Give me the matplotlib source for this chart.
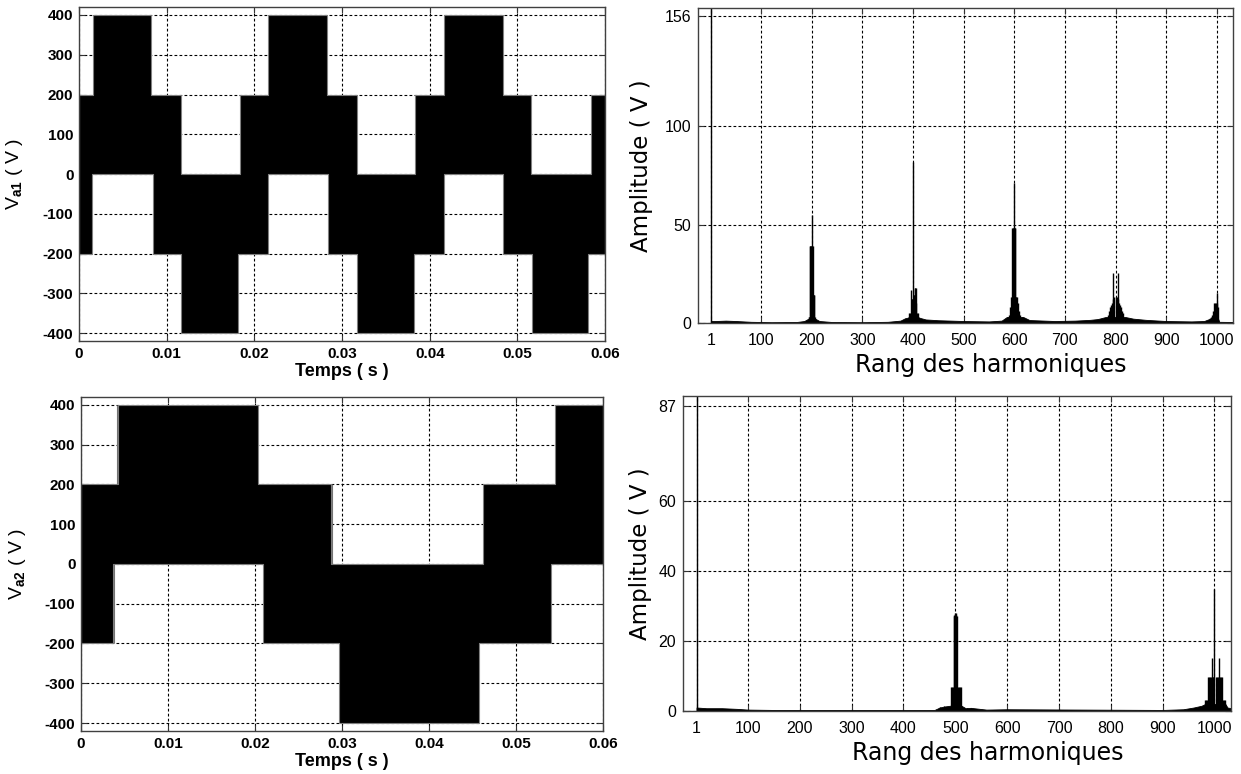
import numpy as np
import matplotlib.pyplot as plt

plt.rcParams['font.family'] = ['Liberation Sans', 'DejaVu Sans']
plt.rcParams['mathtext.fontset'] = 'custom'
plt.rcParams['mathtext.rm'] = 'Liberation Sans'
plt.rcParams['mathtext.bf'] = 'Liberation Sans:bold'

# ---- V_a1 : switching band (upper / lower level) over 0.06 s ----
up_t_a1 = [0, 0.0016, 0.0082, 0.0116, 0.0184, 0.0216, 0.0283, 0.0317, 0.0383, 0.0416, 0.0483, 0.0516, 0.0584]
up_v_a1 = [200, 400, 200, 0, 200, 400, 200, 0, 200, 400, 200, 0, 200]
lo_t_a1 = [0, 0.0015, 0.0084, 0.0116, 0.0181, 0.0215, 0.0284, 0.0317, 0.0382, 0.0416, 0.0484, 0.0517, 0.0581]
lo_v_a1 = [-200, 0, -200, -400, -200, 0, -200, -400, -200, 0, -200, -400, -200]

# ---- V_a2 ----
up_t_a2 = [0, 0.0043, 0.0203, 0.0287, 0.0462, 0.0545]
up_v_a2 = [200, 400, 200, 0, 200, 400]
lo_t_a2 = [0, 0.0037, 0.0209, 0.0297, 0.0457, 0.0540]
lo_v_a2 = [-200, 0, -200, -400, -200, 0]
# isolated pulses
pulse_t_a2 = [0.0041, 0.0038, 0.0289]
pulse_lo_a2 = [200, -200, 0]
pulse_hi_a2 = [400, 0, 200]

T_END = 0.06
time_ticks = [0, 0.01, 0.02, 0.03, 0.04, 0.05, 0.06]
time_labels = ['0', '0.01', '0.02', '0.03', '0.04', '0.05', '0.06']
volt_ticks = [-400, -300, -200, -100, 0, 100, 200, 300, 400]

# ---- spectrum of V_a1 ----
rank_a1 = [1,
           194, 195, 196, 197, 198, 199, 200, 201, 202, 203, 204, 205, 206,
           390, 392, 394, 396, 397, 398, 399, 400, 401, 402, 403, 404, 405, 406, 408, 410, 412,
           588, 590, 592, 594, 595, 596, 597, 598, 599, 600, 601, 602, 603, 604, 606, 608, 610, 612, 615,
           785, 788, 790, 792, 794, 795, 796, 798, 800, 802, 804, 805, 806, 808, 810, 812, 815,
           986, 988, 990, 992, 994, 996, 998, 1000, 1001, 1002]
amp_a1 = [160,
          3, 3, 39, 39, 39, 39, 55, 39, 39, 14, 14, 14, 3,
          3, 5, 5, 17, 12, 12, 12, 82, 14, 14, 18, 18, 18, 10, 5, 5, 3,
          3, 4, 8, 13, 13, 48, 48, 48, 48, 71, 48, 48, 13, 13, 13, 10, 6, 4, 3,
          4, 6, 8, 9, 10, 25.5, 12, 13, 13, 13, 12, 25.5, 10, 9, 8, 6, 5,
          2.5, 3, 4, 6, 10, 10, 10, 15.3, 10, 8]
floor_r_a1 = [1, 10, 30, 50, 80, 120, 170, 185, 192, 208, 215, 240, 300, 350, 375, 385, 415, 425, 450, 500,
              550, 575, 585, 618, 630, 680, 720, 750, 765, 780, 820, 835, 860, 900, 950, 975, 985, 1003, 1005, 1032]
floor_a_a1 = [1, 1, 1.2, 1, 0.6, 0.4, 0.5, 1, 2, 2, 1, 0.5, 0.4, 0.6, 1.2, 2.5, 2.5, 1.8, 1.4, 1,
              0.8, 1.2, 3, 3, 1.5, 1, 1.2, 1.6, 2, 3, 3, 2.2, 1.6, 1, 0.8, 1, 2, 2, 0.6, 0.5]

# ---- spectrum of V_a2 ----
rank_a2 = [1,
           470, 478, 491, 493, 495, 497, 498, 499, 500, 501, 502, 503, 505, 507, 509, 511, 522, 530,
           982, 984, 986, 988, 990, 992, 994, 996, 997, 998, 1000, 1002, 1004, 1006, 1008, 1009,
           1010, 1012, 1014, 1016, 1018, 1021]
amp_a2 = [90,
          1, 1.3, 6.8, 6.8, 6.8, 27, 27.5, 28, 24, 28, 27.5, 27, 6.8, 6.8, 6.8, 6.8, 0.8, 0.9,
          3, 3, 3, 9.7, 9.7, 9.7, 9.7, 15, 9.7, 9.7, 34.9, 9.7, 9.7, 9.7, 9.7, 15,
          9.7, 9.7, 9.7, 3, 3, 3]
floor_r_a2 = [1, 20, 50, 80, 100, 150, 300, 460, 470, 480, 490, 512, 520, 530, 560, 600, 900, 940, 960,
              975, 982, 1021, 1025, 1032]
floor_a_a2 = [1, 0.8, 0.8, 0.6, 0.4, 0.3, 0.3, 0.3, 1, 1.3, 1.5, 1.5, 0.8, 0.9, 0.4, 0.5, 0.3, 0.5, 1,
              1.5, 2, 2, 1, 0.8]

rank_ticks = [1, 100, 200, 300, 400, 500, 600, 700, 800, 900, 1000]


def band(up_t, up_v, lo_t, lo_v):
    t = np.unique(np.r_[up_t, lo_t, T_END])
    up = np.array(up_v)[np.searchsorted(up_t, t, side='right') - 1]
    lo = np.array(lo_v)[np.searchsorted(lo_t, t, side='right') - 1]
    return t, lo, up


def style(ax):
    ax.set_axisbelow(True)
    ax.grid(True, color='k', linestyle=(0, (2.5, 2.0)), linewidth=0.8)
    ax.tick_params(direction='in', length=4, top=True, right=True, color='0.2')
    for s in ax.spines.values():
        s.set_color('0.25')
        s.set_linewidth(1.0)


def time_plot(ax, up_t, up_v, lo_t, lo_v, name):
    t, lo, up = band(up_t, up_v, lo_t, lo_v)
    ax.fill_between(t, lo, up, step='post', facecolor='k', edgecolor='0.5', linewidth=0.8)
    ax.set_xlim(0, T_END)
    ax.set_ylim(-420, 420)
    ax.set_xticks(time_ticks)
    ax.set_xticklabels(time_labels, fontweight='bold', fontsize=11)
    ax.set_yticks(volt_ticks)
    ax.set_yticklabels([str(v) for v in volt_ticks], fontweight='bold', fontsize=11)
    ax.tick_params(axis='both', pad=4)
    style(ax)
    ax.set_xlabel('Temps ( s )', fontsize=13, fontweight='bold')
    ax.xaxis.set_label_coords(0.5, -0.066)
    ax.set_ylabel('V$_{\\mathbf{' + name + '}}$ ( V )', fontsize=14)
    ax.yaxis.set_label_coords(-0.103, 0.5)


def spec_plot(ax, rank, amp, floor_r, floor_a, ymax, yticks, lab_x, lab_y):
    ax.fill_between(floor_r, 0, floor_a, color='k', linewidth=0.6)
    ax.vlines(rank, 0, amp, color='k', linewidth=1.0)
    ax.set_xlim(-25, 1032)
    ax.set_ylim(0, ymax)
    ax.set_xticks(rank_ticks)
    ax.set_xticklabels([str(r) for r in rank_ticks], fontsize=11.5)
    ax.set_yticks(yticks)
    ax.set_yticklabels([str(v) for v in yticks], fontsize=11.5)
    style(ax)
    ax.tick_params(axis='x', pad=7)
    ax.tick_params(axis='y', pad=5)
    ax.set_xlabel('Rang des harmoniques', fontsize=17, family=['DejaVu Sans'])
    ax.xaxis.set_label_coords(lab_x, -0.095)
    ax.set_ylabel('Amplitude ( V )', fontsize=16.5, family=['DejaVu Sans'])
    ax.yaxis.set_label_coords(lab_y, 0.5)


fig = plt.figure(figsize=(12.41, 7.74), dpi=100)
ax_tl = fig.add_axes([0.0637, 0.5594, 0.4239, 0.4315])
ax_bl = fig.add_axes([0.0653, 0.0556, 0.4206, 0.4315])
ax_tr = fig.add_axes([0.5624, 0.5827, 0.4311, 0.4070])
ax_br = fig.add_axes([0.5504, 0.0814, 0.4416, 0.4070])

time_plot(ax_tl, up_t_a1, up_v_a1, lo_t_a1, lo_v_a1, 'a1')
time_plot(ax_bl, up_t_a2, up_v_a2, lo_t_a2, lo_v_a2, 'a2')
ax_bl.vlines(pulse_t_a2, pulse_lo_a2, pulse_hi_a2, color='0.45', linewidth=0.8)
ax_bl.yaxis.set_label_coords(-0.1015, 0.5)

spec_plot(ax_tr, rank_a1, amp_a1, floor_r_a1, floor_a_a1, 160, [0, 50, 100, 156], 0.547, -0.084)
spec_plot(ax_br, rank_a2, amp_a2, floor_r_a2, floor_a_a2, 90, [0, 20, 40, 60, 87], 0.556, -0.057)

fig.savefig('out.png', dpi=100)
